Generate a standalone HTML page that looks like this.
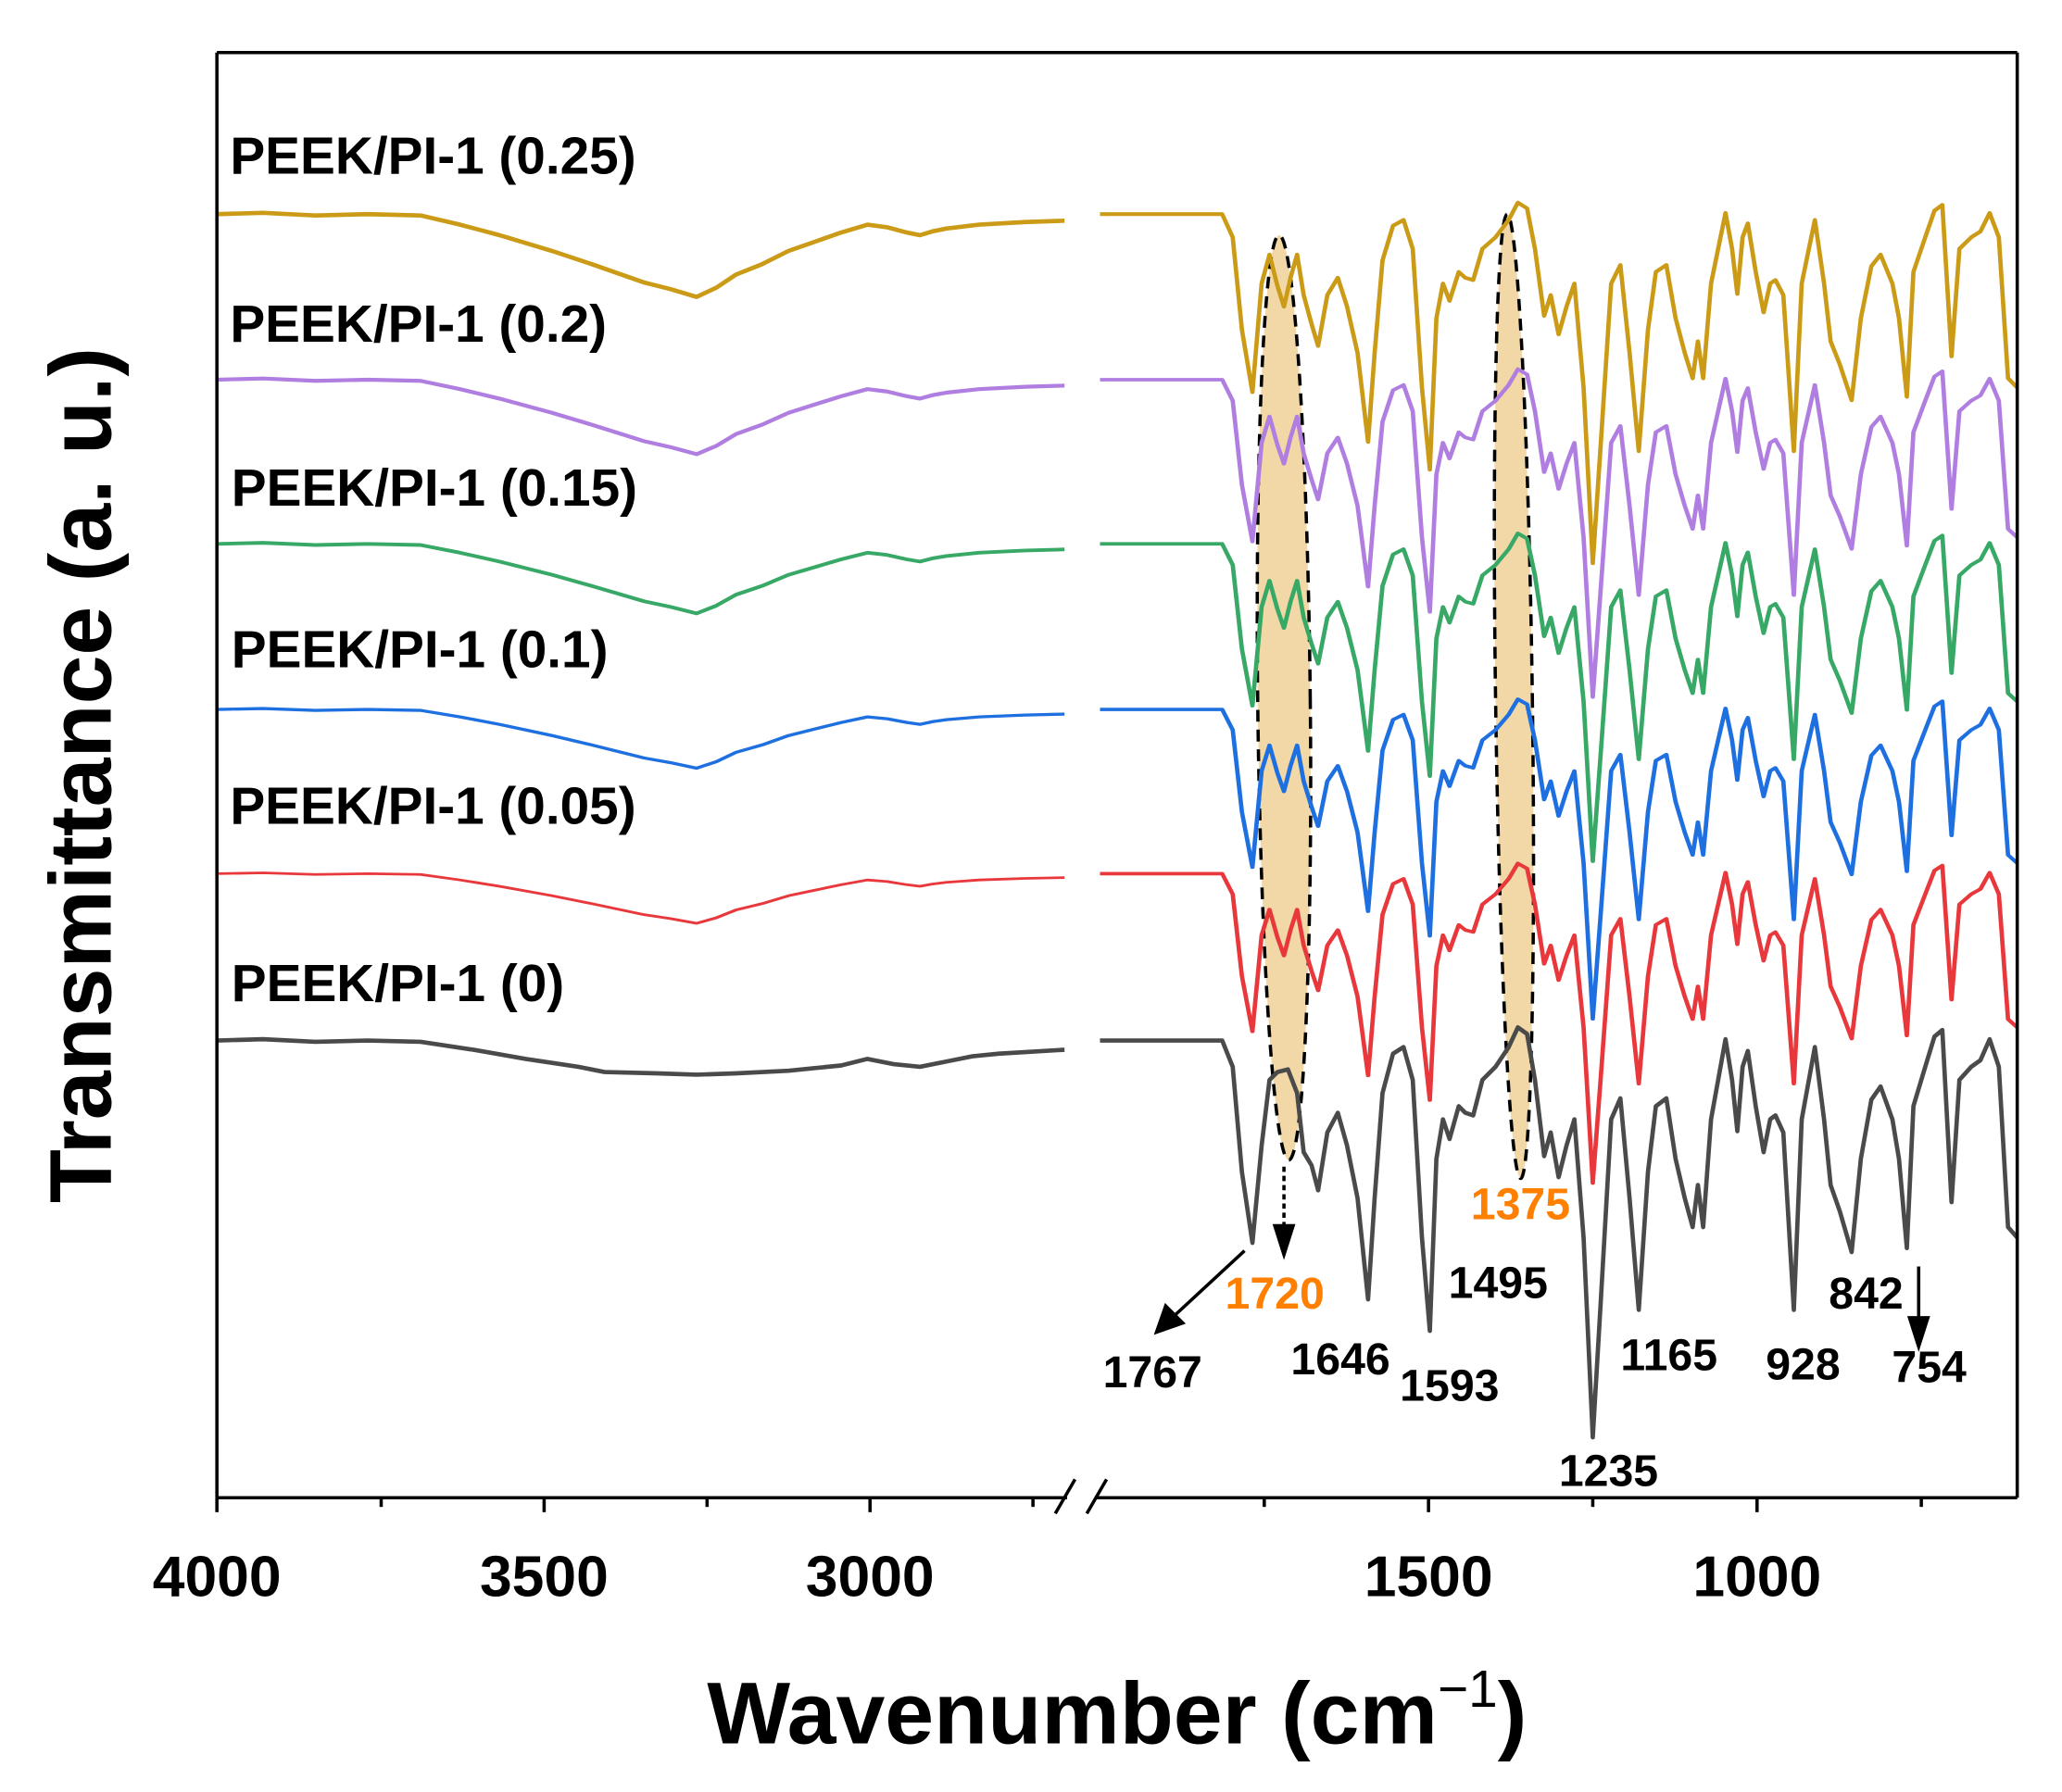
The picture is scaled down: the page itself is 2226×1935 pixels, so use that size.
<!DOCTYPE html>
<html><head><meta charset="utf-8"><style>
html,body{margin:0;padding:0;background:#fff;}
svg{display:block;}
text{font-family:"Liberation Sans",Arial,sans-serif;font-weight:bold;}
</style></head><body>
<svg width="2226" height="1935" viewBox="0 0 1569 1364" xmlns="http://www.w3.org/2000/svg">
<defs>
<polyline id="L" points="165,0 200,-1 240,1 280,0 320,1 350,8 380,16 420,28 450,38 490,52 510,57 530,63 545,56 560,46 580,38 600,28 620,21 640,14 660,8 675,10 690,14 700,16 710,13 720,11 745,8 780,6 810,5"/>
<polyline id="LB" points="165,0 200,-1 240,1 280,0 320,1 360,7 400,14 440,20 460,24 500,25 530,26 560,25 600,23 620,21 640,19 660,14 680,18 700,20 720,16 740,12 760,10 810,7"/>
<polyline id="R" points="837,0 930,0 938,20 945,100 953,154 960,80 966,30 972,24 980,22 987,40 992,85 998,95 1003,114 1010,70 1018,55 1025,80 1033,120 1041,197 1046,120 1052,40 1060,10 1068,5 1075,30 1082,150 1088,221 1093,90 1098,60 1103,75 1110,50 1115,55 1121,57 1128,30 1138,20 1148,5 1155,-10 1162,-5 1168,30 1175,88 1180,70 1186,104 1192,80 1198,60 1205,150 1212,302 1218,200 1226,60 1233,44 1240,120 1247,205 1254,100 1260,50 1268,44 1275,90 1282,120 1288,142 1292,110 1296,142 1302,60 1313,-1 1318,30 1322,69 1326,20 1330,8 1336,50 1342,85 1347,60 1351,57 1357,70 1365,205 1371,60 1381,5 1388,60 1393,110 1400,130 1409,161 1416,90 1424,45 1431,35 1440,60 1445,90 1451,158 1456,50 1465,20 1472,-3 1478,-8 1485,123 1491,30 1500,20 1507,15 1514,-1 1521,20 1528,142 1535,150"/>
<polyline id="R2" points="837,0 930,0 938,20 945,100 953,154 960,60 966,35 972,62 977,80 982,55 987,35 992,70 998,95 1003,114 1010,70 1018,55 1025,80 1033,120 1041,197 1046,120 1052,40 1060,10 1068,5 1075,30 1082,150 1088,221 1093,90 1098,60 1103,75 1110,50 1115,55 1121,57 1128,30 1138,20 1148,5 1155,-10 1162,-5 1168,30 1175,88 1180,70 1186,104 1192,80 1198,60 1205,150 1212,302 1218,200 1226,60 1233,44 1240,120 1247,205 1254,100 1260,50 1268,44 1275,90 1282,120 1288,142 1292,110 1296,142 1302,60 1313,-1 1318,30 1322,69 1326,20 1330,8 1336,50 1342,85 1347,60 1351,57 1357,70 1365,205 1371,60 1381,5 1388,60 1393,110 1400,130 1409,161 1416,90 1424,45 1431,35 1440,60 1445,90 1451,158 1456,50 1465,20 1472,-3 1478,-8 1485,123 1491,30 1500,20 1507,15 1514,-1 1521,20 1528,142 1535,150"/>
</defs>
<rect width="1569" height="1364" fill="#fff"/>
<ellipse cx="977" cy="531" rx="20" ry="352" fill="#f1d8a6" stroke="#000" stroke-width="2.5" stroke-dasharray="9,6" transform="rotate(-0.6 977 531)"/>
<ellipse cx="1152" cy="530" rx="14" ry="367" fill="#f1d8a6" stroke="#000" stroke-width="2.5" stroke-dasharray="9,6" transform="rotate(-0.8 1152 530)"/>
<g fill="none" stroke-width="3.3" stroke-linejoin="round">
<g stroke="#cb9b17">
 <use href="#L" transform="translate(0,163)"/>
 <use href="#R2" transform="translate(0,163) scale(1,0.88)"/>
</g>
<g stroke="#b07ee0">
 <use href="#L" transform="translate(0,289) scale(1,0.9)"/>
 <use href="#R2" transform="translate(0,289) scale(1,0.8)"/>
</g>
<g stroke="#37a865">
 <use href="#L" transform="translate(0,414) scale(1,0.84)"/>
 <use href="#R2" transform="translate(0,414) scale(1,0.8)"/>
</g>
<g stroke="#1e6fe0">
 <use href="#L" transform="translate(0,540) scale(1,0.71)"/>
 <use href="#R2" transform="translate(0,540) scale(1,0.78)"/>
</g>
<g stroke="#e8383c">
 <use href="#L" transform="translate(0,665) scale(1,0.6)"/>
 <use href="#R2" transform="translate(0,665) scale(1,0.78)"/>
</g>
<g stroke="#4a4a4a">
 <use href="#LB" transform="translate(0,792)"/>
 <use href="#R" transform="translate(0,792)"/>
</g>
</g>
<g stroke="#000" stroke-width="2.5" fill="none">
<line x1="165" y1="40" x2="1535" y2="40"/>
<line x1="165" y1="40" x2="165" y2="1140"/>
<line x1="1535" y1="40" x2="1535" y2="1140"/>
<line x1="165" y1="1140" x2="812" y2="1140"/>
<line x1="833" y1="1140" x2="1535" y2="1140"/>
<line x1="803" y1="1152" x2="818" y2="1126"/>
<line x1="827" y1="1152" x2="842" y2="1126"/>
<line x1="165" y1="1140" x2="165" y2="1151"/>
<line x1="414" y1="1140" x2="414" y2="1151"/>
<line x1="662" y1="1140" x2="662" y2="1151"/>
<line x1="1087" y1="1140" x2="1087" y2="1151"/>
<line x1="1337" y1="1140" x2="1337" y2="1151"/>
<line x1="290" y1="1140" x2="290" y2="1147"/>
<line x1="538" y1="1140" x2="538" y2="1147"/>
<line x1="786" y1="1140" x2="786" y2="1147"/>
<line x1="962" y1="1140" x2="962" y2="1147"/>
<line x1="1212" y1="1140" x2="1212" y2="1147"/>
<line x1="1462" y1="1140" x2="1462" y2="1147"/>
</g>
<g font-size="44" text-anchor="middle">
<text x="165" y="1215">4000</text><text x="414" y="1215">3500</text><text x="662" y="1215">3000</text>
<text x="1087" y="1215">1500</text><text x="1337" y="1215">1000</text>
</g>
<text x="850" y="1327" font-size="67" text-anchor="middle">Wavenumber (cm<tspan font-weight="normal" font-size="40" dy="-28">−1</tspan><tspan dy="28">)</tspan></text>
<text transform="translate(84,590) rotate(-90)" font-size="67" text-anchor="middle">Transmittance (a. u.)</text>
<g font-size="40">
<text x="175" y="132">PEEK/PI-1 (0.25)</text>
<text x="175" y="260">PEEK/PI-1 (0.2)</text>
<text x="176" y="385">PEEK/PI-1 (0.15)</text>
<text x="176" y="508">PEEK/PI-1 (0.1)</text>
<text x="175" y="627">PEEK/PI-1 (0.05)</text>
<text x="176" y="762">PEEK/PI-1 (0)</text>
</g>
<g font-size="34" text-anchor="middle">
<text x="877" y="1056">1767</text>
<text x="970" y="996" fill="#ff8000">1720</text>
<text x="1020" y="1046">1646</text>
<text x="1103" y="1066">1593</text>
<text x="1140" y="988">1495</text>
<text x="1157" y="928" fill="#ff8000">1375</text>
<text x="1224" y="1131">1235</text>
<text x="1270" y="1043">1165</text>
<text x="1372" y="1050">928</text>
<text x="1420" y="996">842</text>
<text x="1468" y="1052">754</text>
</g>
<g stroke="#000" stroke-width="2.5" fill="#000">
<line x1="947" y1="952" x2="893" y2="1002"/>
<polygon points="880,1014 887,994 900,1007"/>
<line x1="977" y1="888" x2="977" y2="935" stroke-dasharray="4,3"/>
<polygon points="977,955 970,933 984,933"/>
<line x1="1460" y1="964" x2="1460" y2="1005"/>
<polygon points="1460,1025 1453,1003 1467,1003"/>
</g>
</svg>
</body></html>
